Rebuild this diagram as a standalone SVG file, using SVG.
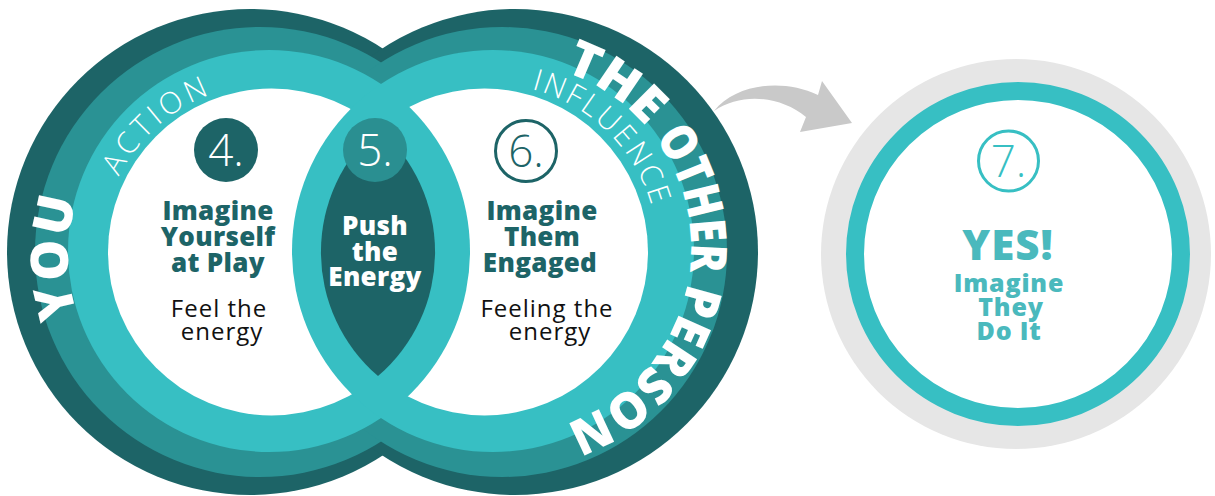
<svg xmlns="http://www.w3.org/2000/svg" width="1215" height="496" viewBox="0 0 1215 496">
<style>
.dark{fill:#1d6467}
.mid{fill:#2a9294}
.light{fill:#37bfc3}
.title{font-family:"Open Sans","Liberation Sans",sans-serif;font-weight:800;font-size:26px;letter-spacing:0.3px;text-anchor:middle}
.body{font-family:"Open Sans","Liberation Sans",sans-serif;font-weight:500;font-size:24px;letter-spacing:1px;text-anchor:middle;fill:#111}
.num{font-family:"Open Sans","Liberation Sans",sans-serif;font-weight:300;font-size:44px;text-anchor:middle}
.band{font-family:"Open Sans","Liberation Sans",sans-serif;font-weight:300;font-size:30px;fill:#fff}
.big{font-family:"Open Sans","Liberation Sans",sans-serif;font-weight:800;fill:#fff}
.yes{font-family:"Open Sans","Liberation Sans",sans-serif;font-weight:800;text-anchor:middle;fill:#4ab9bd}
</style>
<defs>
<mask id="mNotRightLight" maskUnits="userSpaceOnUse" x="0" y="0" width="1215" height="496">
<rect width="1215" height="496" fill="#fff"/>
<circle cx="493" cy="251" r="201" fill="#000"/>
</mask>
<mask id="mNotLeftLight" maskUnits="userSpaceOnUse" x="0" y="0" width="1215" height="496">
<rect width="1215" height="496" fill="#fff"/>
<circle cx="269" cy="251" r="201" fill="#000"/>
</mask>
<path id="pYou" d="M133,396.4 A182,182 0 0 1 133,117.6"/>
<path id="pAction" d="M101.05,256.1 A168,168 0 0 1 294.1,85.9"/>
<path id="pInfluence" d="M473.9,84.8 A168,168 0 0 1 657.5,265.2"/>
<path id="pOther" d="M441.4,73.2 A186,186 0 1 1 441.4,422.8"/>
</defs>
<rect width="1215" height="496" fill="#fff"/>

<g id="venn">
<circle class="dark" cx="250" cy="252" r="243"/>
<circle class="dark" cx="515" cy="252" r="243"/>
<circle class="mid" cx="260" cy="252" r="225"/>
<circle class="mid" cx="502" cy="252" r="225"/>
<circle class="light" cx="269" cy="251" r="201"/>
<circle class="light" cx="493" cy="251" r="201"/>
<circle cx="271.5" cy="252" r="163.5" fill="#fff" mask="url(#mNotRightLight)"/>
<circle cx="484.5" cy="252" r="163.5" fill="#fff" mask="url(#mNotLeftLight)"/>
<path id="lens" class="dark" d="M378,127.9 A163.5,163.5 0 0 1 378,376.1 A163.5,163.5 0 0 1 378,127.9 Z"/>
</g>

<g id="labels-rings">
<text class="big" font-size="52" letter-spacing="1"><textPath href="#pYou" startOffset="50%" text-anchor="middle">YOU</textPath></text>
<text class="band" letter-spacing="4"><textPath href="#pAction" startOffset="50%" text-anchor="middle">ACTION</textPath></text>
<text class="band" letter-spacing="2.5"><textPath href="#pInfluence" startOffset="50%" text-anchor="middle">INFLUENCE</textPath></text>
<text class="big" font-size="50"><textPath href="#pOther" startOffset="24.5%" text-anchor="middle" textLength="100" lengthAdjust="spacingAndGlyphs">THE</textPath></text>
<text class="big" font-size="50"><textPath href="#pOther" startOffset="43.4%" text-anchor="middle" textLength="142" lengthAdjust="spacingAndGlyphs">OTHER</textPath></text>
<text class="big" font-size="50"><textPath href="#pOther" startOffset="68.6%" text-anchor="middle" textLength="195" lengthAdjust="spacingAndGlyphs">PERSON</textPath></text>
</g>

<g id="node-4">
<circle class="dark" cx="226" cy="150" r="32"/>
<text class="num" x="226" y="166" fill="#fff">4.</text>
<text class="title" fill="#1d6467"><tspan x="218" y="220">Imagine</tspan><tspan x="218" y="246">Yourself</tspan><tspan x="218" y="272">at Play</tspan></text>
<text class="body"><tspan x="219" y="317">Feel the</tspan><tspan x="222" y="340">energy</tspan></text>
</g>

<g id="node-5">
<circle cx="375" cy="150" r="32" fill="#2a8f91"/>
<text class="num" x="375" y="166" fill="#fff">5.</text>
<text class="title" fill="#fff"><tspan x="375" y="235">Push</tspan><tspan x="375" y="261">the</tspan><tspan x="375" y="286">Energy</tspan></text>
</g>

<g id="node-6">
<circle cx="526" cy="151" r="30.5" fill="#fff" stroke="#1d6467" stroke-width="3"/>
<text class="num" x="526" y="167" fill="#1d6467">6.</text>
<text class="title" fill="#1d6467"><tspan x="542" y="220">Imagine</tspan><tspan x="542" y="246">Them</tspan><tspan x="540" y="272">Engaged</tspan></text>
<text class="body"><tspan x="547" y="317">Feeling the</tspan><tspan x="550" y="340">energy</tspan></text>
</g>

<g id="connectors">
<path d="M714,111 C736,84 782,78 818,95 L822,81 L852,123 L800,132 L806,117 C780,96 742,92 714,111 Z" fill="#c9c9c9"/>
</g>

<g id="node-7">
<circle cx="1016" cy="254" r="195" fill="#e6e6e6"/>
<circle cx="1018" cy="254" r="163" fill="#fff" stroke="#37bfc3" stroke-width="18"/>
<circle cx="1008.5" cy="161" r="30" fill="none" stroke="#37bfc3" stroke-width="3"/>
<text class="num" x="1008.5" y="177" fill="#37bfc3">7.</text>
<text class="yes" x="1008" y="260" font-size="42" letter-spacing="1">YES!</text>
<text class="yes" font-size="25" letter-spacing="0.8"><tspan x="1009" y="292">Imagine</tspan><tspan x="1011" y="316">They</tspan><tspan x="1009" y="340">Do It</tspan></text>
</g>
</svg>
